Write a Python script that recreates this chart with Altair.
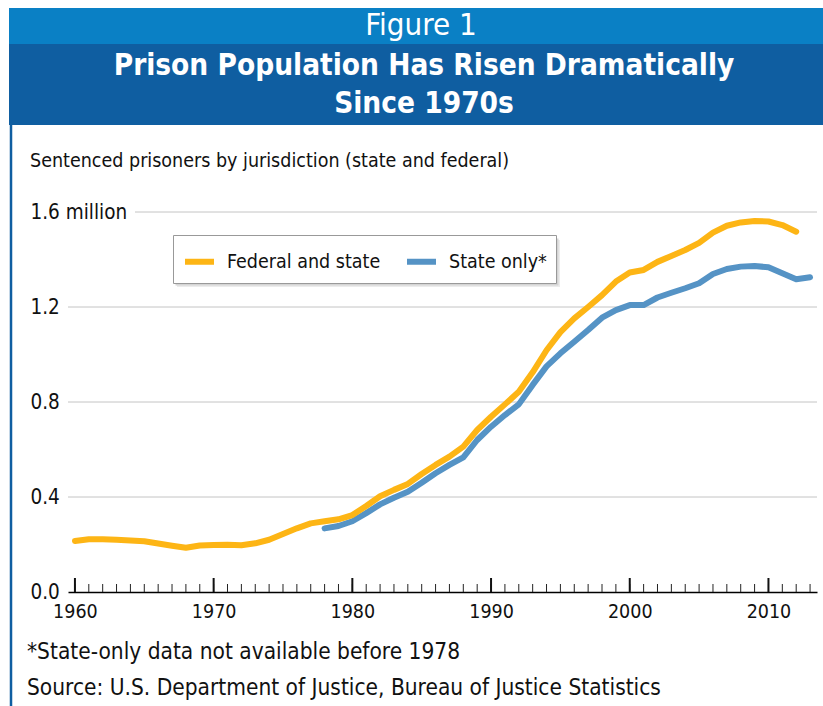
import altair as alt
import pandas as pd

# ---- data ----
fed_years = list(range(1960, 2013))
fed_values = [0.215, 0.222, 0.222, 0.220, 0.217, 0.214, 0.204, 0.195, 0.186, 0.196,
              0.198, 0.199, 0.197, 0.205, 0.220, 0.244, 0.268, 0.289, 0.298, 0.306,
              0.324, 0.362, 0.403, 0.430, 0.455, 0.497, 0.535, 0.570, 0.612, 0.682,
              0.738, 0.790, 0.843, 0.925, 1.018, 1.094, 1.152, 1.200, 1.250, 1.307,
              1.345, 1.356, 1.390, 1.415, 1.440, 1.470, 1.513, 1.542, 1.556, 1.562,
              1.560, 1.545, 1.517]
state_years = list(range(1978, 2014))
state_values = [0.268, 0.278, 0.298, 0.332, 0.369, 0.397, 0.422, 0.460, 0.500, 0.535,
                0.567, 0.640, 0.696, 0.745, 0.790, 0.872, 0.950, 1.005, 1.054, 1.103,
                1.155, 1.187, 1.208, 1.208, 1.240, 1.260, 1.279, 1.300, 1.339, 1.360,
                1.370, 1.373, 1.367, 1.342, 1.317, 1.325]
series_names = ["Federal and state", "State only*"]
series_colors = ["#FDB515", "#5593C5"]
y_ticks = [0.0, 0.4, 0.8, 1.2, 1.6]
x_label_years = [1960, 1970, 1980, 1990, 2000, 2010]
minor_tick_years = list(range(1960, 2014))

title_top = "Figure 1"
title_lines = ["Prison Population Has Risen Dramatically", "Since 1970s"]
subtitle = "Sentenced prisoners by jurisdiction (state and federal)"
footnote = "*State-only data not available before 1978"
source = "Source: U.S. Department of Justice, Bureau of Justice Statistics"

# ---- layout (pixels) ----
W, H = 749, 380
PAD_L, PAD_T = 68, 212
COND = "DejaVu Sans Condensed, DejaVu Sans, sans-serif"
DARK = "#0F5EA1"
LIGHT = "#0A80C5"

rows = []
for y, v in zip(state_years, state_values):
    rows.append({"year": y, "value": v, "series": series_names[1]})
for y, v in zip(fed_years, fed_values):
    rows.append({"year": y, "value": v, "series": series_names[0]})
df = pd.DataFrame(rows)

one = pd.DataFrame({"k": [0]})

xscale = alt.Scale(domain=[1959.5, 2013.5], nice=False, zero=False)
yscale = alt.Scale(domain=[0, 1.6], nice=False)

lines = alt.Chart(df).mark_line(strokeWidth=6, strokeCap="round", strokeJoin="round").encode(
    x=alt.X("year:Q", scale=xscale,
            axis=alt.Axis(values=x_label_years, format="d", title=None, grid=False,
                          ticks=False, domainColor="#000", domainWidth=1.5,
                          labelFont=COND, labelFontSize=19.5, labelColor="#111",
                          labelPadding=10, labelFlush=False)),
    y=alt.Y("value:Q", scale=yscale,
            axis=alt.Axis(values=y_ticks, title=None, grid=False, ticks=False, domain=False,
                          labelAlign="left", labelPadding=38, labelFont=COND,
                          labelFontSize=20.5, labelColor="#111",
                          labelExpr="datum.value == 1.6 ? '1.6 million' : format(datum.value, '.1f')")),
    color=alt.Color("series:N",
                    scale=alt.Scale(domain=series_names, range=series_colors),
                    legend=alt.Legend(title=None, orient="none", legendX=105, legendY=23,
                                      direction="horizontal", symbolType="stroke",
                                      symbolStrokeWidth=6, symbolSize=841,
                                      labelFont=COND, labelFontSize=19.5, labelColor="#111",
                                      labelLimit=400,
                                      fillColor="white", strokeColor="#999",
                                      padding=9, columnPadding=14, labelOffset=10)),
    order=alt.Order("series:N", sort="descending"),
)

grid_df = pd.DataFrame({"v": y_ticks[1:4]})
grid = alt.Chart(grid_df).mark_rule(color="#c4c4c4", strokeWidth=1).encode(
    y=alt.Y("v:Q", scale=yscale), x=alt.value(0), x2=alt.value(W))
grid_top = alt.Chart(pd.DataFrame({"v": [y_ticks[4]]})).mark_rule(color="#c4c4c4", strokeWidth=1).encode(
    y=alt.Y("v:Q", scale=yscale), x=alt.value(67), x2=alt.value(W))

minor = alt.Chart(pd.DataFrame({"yr": minor_tick_years})).mark_rule(color="#222", strokeWidth=1).encode(
    x=alt.X("yr:Q", scale=xscale), y=alt.value(H), y2=alt.value(H - 8))
major = alt.Chart(pd.DataFrame({"yr": x_label_years})).mark_rule(color="#111", strokeWidth=2).encode(
    x=alt.X("yr:Q", scale=xscale), y=alt.value(H), y2=alt.value(H - 14))

band_light = alt.Chart(one).mark_rect(color=LIGHT).encode(
    x=alt.value(9 - PAD_L), x2=alt.value(823 - PAD_L), y=alt.value(8 - PAD_T), y2=alt.value(44 - PAD_T))
band_dark = alt.Chart(one).mark_rect(color=DARK).encode(
    x=alt.value(9 - PAD_L), x2=alt.value(823 - PAD_L), y=alt.value(44 - PAD_T), y2=alt.value(125 - PAD_T))
left_line = alt.Chart(one).mark_rule(color=DARK, strokeWidth=2.5).encode(
    x=alt.value(11 - PAD_L), y=alt.value(125 - PAD_T), y2=alt.value(706 - PAD_T))

# soft drop shadow behind the legend box
def shadow(off, color):
    return alt.Chart(one).mark_rect(color=color).encode(
        x=alt.value(173 + off - PAD_L), x2=alt.value(556 + off - PAD_L),
        y=alt.value(236 + off - PAD_T), y2=alt.value(283 + off - PAD_T))
shadows = [shadow(4, "#ececec"), shadow(2.5, "#d4d4d4")]

def txt(s, x, y, size, bold=False, color="#111", align="left", font=COND):
    return alt.Chart(one).mark_text(text=s, align=align, baseline="middle", fontSize=size,
                                    fontWeight="bold" if bold else "normal",
                                    color=color, font=font).encode(
        x=alt.value(x - PAD_L), y=alt.value(y - PAD_T))

texts = [
    txt(title_top, 421, 26, 31, color="white", align="center"),
    txt(title_lines[0], 424, 66, 29.5, bold=True, color="white", align="center"),
    txt(title_lines[1], 424, 104, 29.5, bold=True, color="white", align="center"),
    txt(subtitle, 30, 161, 19.5),
    txt(footnote, 27, 652, 22.5),
    txt(source, 27, 688, 22.5),
]

chart = alt.layer(band_light, band_dark, left_line, grid, grid_top, minor, major,
                  *shadows, lines, *texts).properties(
    width=W, height=H,
    padding={"left": PAD_L, "top": PAD_T, "right": 823 - PAD_L - W, "bottom": 706 - PAD_T - H},
    autosize=alt.AutoSizeParams(type="none"),
    background="white",
).configure_view(stroke=None)

chart.save("out.html", embed_options={"renderer": "svg", "actions": False})
